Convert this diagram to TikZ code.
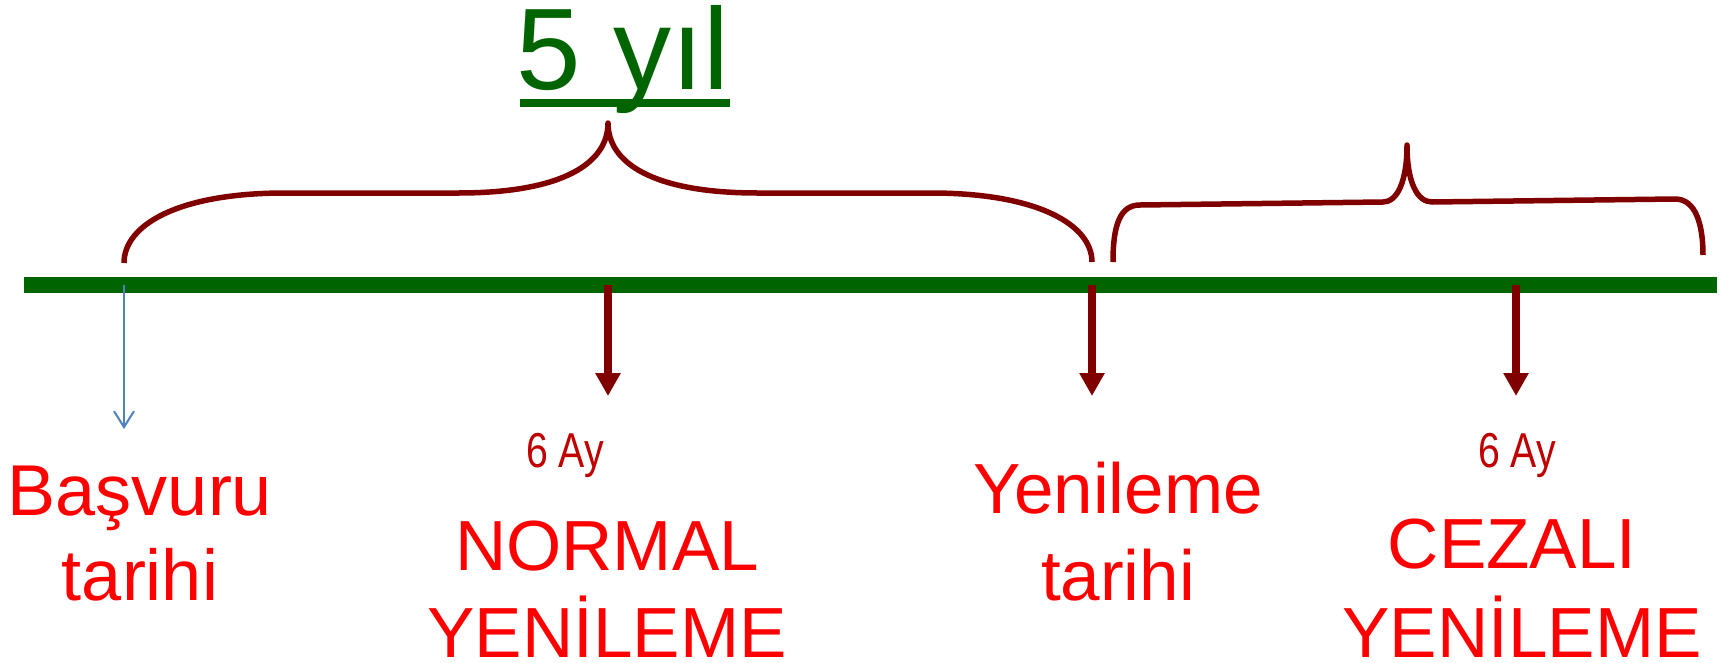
\documentclass[tikz,border=0pt]{standalone}
\usepackage{fontspec}
\setmainfont{Liberation Sans}
\newfontfamily\narrowfont{Liberation Sans}[FakeStretch=0.8]
\usetikzlibrary{arrows.meta}
\definecolor{lineGreen}{HTML}{006400}
\definecolor{braceRed}{HTML}{800000}
\definecolor{labelRed}{HTML}{FF0000}
\definecolor{ayRed}{HTML}{C00000}
\definecolor{blueArrow}{HTML}{4F81BD}
\tikzset{
  bracestyle/.style={draw=braceRed, line width=5.5pt, line join=round},
  timeline/.style={draw=lineGreen, line width=16pt},
  markarrow/.style={draw=braceRed, line width=8pt, -{Triangle[width=24pt,length=23pt]}},
  startarrow/.style={draw=blueArrow, line width=2pt, -{Straight Barb[width=20pt,length=16pt,line width=2pt]}},
  biglabel/.style={text=labelRed, font=\fontsize{72}{86}\selectfont, align=center, anchor=base, inner sep=0pt},
  smalllabel/.style={text=ayRed, font=\narrowfont\fontsize{49}{58}\selectfont, anchor=base, inner sep=0pt},
  titlelabel/.style={text=lineGreen, font=\fontsize{116}{130}\selectfont, anchor=base, inner sep=0pt},
}
\begin{document}
\begin{tikzpicture}[x=1pt,y=-1pt]
\useasboundingbox (0,0) rectangle (1725,662);
% title
\node[titlelabel] (yil) at (623,89) {5 yıl};
\draw[lineGreen, line width=8pt] (520,103) -- (730,103);
% braces
\draw[bracestyle] (124,263) .. controls (124,225) and (178,193) .. (285,193)
  -- (458,193) .. controls (565,193) and (608,162) .. (608,123)
  .. controls (608,162) and (651,193) .. (758,193)
  -- (931,193) .. controls (1038,193) and (1092,225) .. (1092,262);
\draw[bracestyle] (1113,262) .. controls (1113,225) and (1120,205) .. (1140,205)
  -- (1383,202) .. controls (1397,202) and (1407,182) .. (1407,145)
  .. controls (1407,182) and (1417,202) .. (1432,202)
  -- (1675,199) .. controls (1696,199) and (1703,225) .. (1703,255);
% timeline
\coordinate (lstart) at (24,285);
\coordinate (lend) at (1717,285);
\draw[timeline] (lstart) -- (lend);
% points on the line and arrow ends
\coordinate (p0) at (124,285);
\coordinate (p1) at (608,285);
\coordinate (p2) at (1092,285);
\coordinate (p3) at (1516,285);
\coordinate (h0) at (124,429);
\coordinate (h1) at (608,396);
\coordinate (h2) at (1092,396);
\coordinate (h3) at (1516,396);
\draw[startarrow] (p0) -- (h0);
\draw[markarrow] (p1) -- (h1);
\draw[markarrow] (p2) -- (h2);
\draw[markarrow] (p3) -- (h3);
% labels (base anchor = baseline of the last line)
\node[smalllabel] (ay1) at (565,467) {6 Ay};
\node[smalllabel] (ay2) at (1517,467) {6 Ay};
\node[biglabel, font=\fontsize{72}{85}\selectfont] (basvuru) at (140,600) {Başvuru\\tarihi};
\node[biglabel, font=\fontsize{71}{87}\selectfont] (normal) at (607,657) {NORMAL\\YENİLEME};
\node[biglabel, font=\fontsize{71}{87}\selectfont] (yenileme) at (1118,600) {Yenileme\\tarihi};
\node[biglabel, font=\fontsize{71}{89}\selectfont] (cezali) at (1522,657) {CEZALI\hspace*{0.28em}\\YENİLEME};
\end{tikzpicture}
\end{document}
